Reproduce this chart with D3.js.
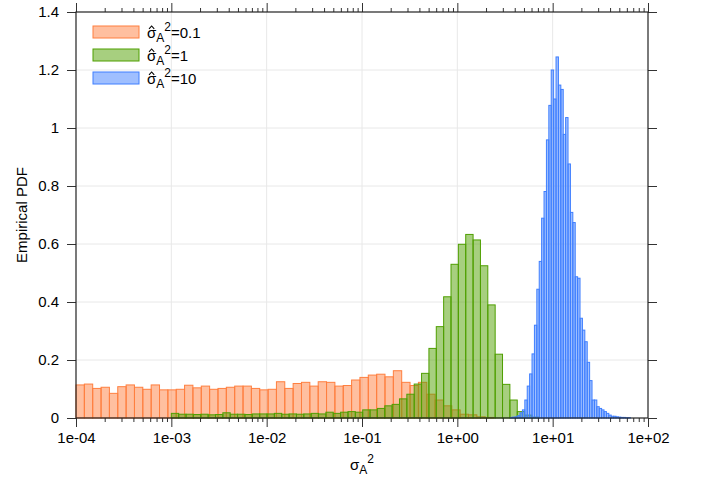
<!DOCTYPE html>
<html>
<head>
<meta charset="utf-8">
<script src="https://cdn.jsdelivr.net/npm/d3@7"></script>
<style>
html,body{margin:0;padding:0;background:#fff;}
svg{display:block;font-family:"Liberation Sans",Arial,Helvetica,sans-serif;}
</style>
</head>
<body>
<svg id="chart" width="701" height="487"></svg>
<script>
// ---------- data ----------
const seriesNames = ["0.1", "1", "10"];
const seriesColors = ["#ff7f3f", "#4f9f00", "#3f7fff"];

// histogram bins: log10 of first left edge, bin width in log10 units
const orangeBinStart = -4.0, orangeBinWidth = 0.0876;
const greenBinStart = -3.0, greenBinWidth = 0.0772;
const blueBinStart = 0.557, blueBinWidth = 0.02517;

const orangeValues = [0.114,0.117,0.102,0.106,0.085,0.108,0.114,0.106,0.099,0.114,
  0.097,0.097,0.099,0.113,0.104,0.110,0.099,0.102,0.106,0.110,
  0.110,0.102,0.097,0.099,0.125,0.102,0.119,0.123,0.110,0.125,
  0.123,0.110,0.112,0.131,0.140,0.148,0.151,0.142,0.163,0.123,
  0.112,0.123,0.082,0.062,0.042,0.028,0.013,0.011,0.004,0.002];

const greenValues = [0.016,0.013,0.013,0.012,0.013,0.011,0.012,0.018,0.013,0.013,
  0.012,0.014,0.014,0.014,0.016,0.013,0.014,0.013,0.014,0.016,
  0.014,0.020,0.016,0.020,0.022,0.020,0.028,0.028,0.033,0.042,
  0.047,0.066,0.082,0.117,0.154,0.240,0.315,0.418,0.530,0.599,
  0.633,0.614,0.525,0.390,0.220,0.116,0.062,0.022,0.010,0.003];

const blueValues = [0.002,0.003,0.004,0.008,0.018,0.028,0.062,0.110,0.152,0.221,
  0.320,0.444,0.540,0.689,0.781,0.959,1.078,1.200,1.100,1.245,
  1.148,1.133,0.978,1.036,0.876,0.709,0.674,0.487,0.482,0.344,
  0.303,0.263,0.192,0.129,0.062,0.062,0.039,0.033,0.028,0.022,
  0.016,0.010,0.006,0.006,0.004,0.003,0.002,0.002,0.001,0.001];

const xTickValues = [1e-4, 1e-3, 1e-2, 1e-1, 1e0, 1e1, 1e2];
const xTickLabels = ["1e-04","1e-03","1e-02","1e-01","1e+00","1e+01","1e+02"];
const yTickValues = [0, 0.2, 0.4, 0.6, 0.8, 1.0, 1.2, 1.4];
const yTickLabels = ["0","0.2","0.4","0.6","0.8","1","1.2","1.4"];

// ---------- layout ----------
const L = 76, R = 648, T = 12, B = 418;
const svg = d3.select("#chart");
const x = d3.scaleLog().domain([1e-4, 1e2]).range([L, R]);
const y = d3.scaleLinear().domain([0, 1.4]).range([B, T]);

// grid
const grid = svg.append("g");
grid.selectAll("line.gx").data(xTickValues.slice(1, -1)).enter().append("line")
  .attr("x1", d => x(d)).attr("x2", d => x(d)).attr("y1", T).attr("y2", B)
  .attr("stroke", "#e8e8e8").attr("stroke-width", 1);
grid.selectAll("line.gy").data(yTickValues.slice(1, -1)).enter().append("line")
  .attr("x1", L).attr("x2", R).attr("y1", d => y(d)).attr("y2", d => y(d))
  .attr("stroke", "#e8e8e8").attr("stroke-width", 1);

// bars
function binsOf(values, start, width) {
  return values.map((v, i) => ({
    x0: Math.pow(10, start + i * width),
    x1: Math.pow(10, start + (i + 1) * width),
    v: v
  }));
}
const allSeries = [
  binsOf(orangeValues, orangeBinStart, orangeBinWidth),
  binsOf(greenValues, greenBinStart, greenBinWidth),
  binsOf(blueValues, blueBinStart, blueBinWidth)
];
allSeries.forEach((bins, si) => {
  svg.append("g").selectAll("rect").data(bins).enter().append("rect")
    .attr("x", d => x(d.x0))
    .attr("width", d => x(d.x1) - x(d.x0))
    .attr("y", d => y(d.v))
    .attr("height", d => y(0) - y(d.v))
    .attr("fill", seriesColors[si]).attr("fill-opacity", 0.5)
    .attr("stroke", seriesColors[si]).attr("stroke-width", 1);
});

// minor ticks
const minors = [];
for (let e = -4; e < 2; e++) for (let m = 2; m <= 9; m++) minors.push(m * Math.pow(10, e));

const tickColor = "#333";
const fmtX = d => xTickLabels[xTickValues.indexOf(d)];
const fmtY = d => yTickLabels[yTickValues.indexOf(d)];

const axB = svg.append("g").attr("transform", `translate(0,${B})`)
  .call(d3.axisBottom(x).tickValues(xTickValues).tickFormat(fmtX).tickSize(9).tickPadding(5));
const axBm = svg.append("g").attr("transform", `translate(0,${B})`)
  .call(d3.axisBottom(x).tickValues(minors).tickFormat("").tickSize(4));
const axT = svg.append("g").attr("transform", `translate(0,${T})`)
  .call(d3.axisTop(x).tickValues(xTickValues).tickFormat("").tickSize(9));
const axTm = svg.append("g").attr("transform", `translate(0,${T})`)
  .call(d3.axisTop(x).tickValues(minors).tickFormat("").tickSize(4));
const axL = svg.append("g").attr("transform", `translate(${L},0)`)
  .call(d3.axisLeft(y).tickValues(yTickValues).tickFormat(fmtY).tickSize(9).tickPadding(8));
const axR = svg.append("g").attr("transform", `translate(${R},0)`)
  .call(d3.axisRight(y).tickValues(yTickValues).tickFormat("").tickSize(9));

[axB, axBm, axT, axTm, axL, axR].forEach(g => {
  g.select(".domain").remove();
  g.selectAll(".tick line").attr("stroke", tickColor).attr("stroke-width", 1);
  g.selectAll("text").attr("fill", "#000").style("font-size", "15px")
    .style("font-family", '"Liberation Sans", Arial, sans-serif');
});

// frame
svg.append("rect").attr("x", L).attr("y", T).attr("width", R - L).attr("height", B - T)
  .attr("fill", "none").attr("stroke", "#222").attr("stroke-width", 1.2);

// axis titles
const xt = svg.append("text").attr("x", (L + R) / 2).attr("y", 470)
  .attr("text-anchor", "middle").style("font-size", "15px");
xt.append("tspan").text("σ");
xt.append("tspan").attr("dy", 4).style("font-size", "12px").text("A");
xt.append("tspan").attr("dy", -11).style("font-size", "12px").text("2");

svg.append("text").attr("transform", `translate(27,${(T + B) / 2}) rotate(-90)`)
  .attr("text-anchor", "middle").style("font-size", "15px").text("Empirical PDF");

// legend
const leg = svg.append("g");
seriesNames.forEach((name, i) => {
  const gy = 26 + i * 23;
  const base = gy + 12;
  leg.append("rect").attr("x", 93).attr("y", gy).attr("width", 46).attr("height", 12)
    .attr("fill", seriesColors[i]).attr("fill-opacity", 0.5)
    .attr("stroke", seriesColors[i]).attr("stroke-width", 1);
  const t = leg.append("text").attr("x", 147).attr("y", base).style("font-size", "15px");
  const sig = t.append("tspan").text("σ");
  t.append("tspan").attr("dy", 4).style("font-size", "12px").text("A");
  t.append("tspan").attr("dy", -11).style("font-size", "12px").text("2");
  t.append("tspan").attr("dy", 7).text("=" + name);
  // circumflex accent over sigma, drawn as a small chevron
  const sw = sig.node().getComputedTextLength();
  const cx = 147 + sw / 2;
  leg.append("path")
    .attr("d", `M${cx - 2.6},${base - 9.2} L${cx},${base - 12} L${cx + 2.6},${base - 9.2}`)
    .attr("fill", "none").attr("stroke", "#000").attr("stroke-width", 1.1);
});
</script>
</body>
</html>
